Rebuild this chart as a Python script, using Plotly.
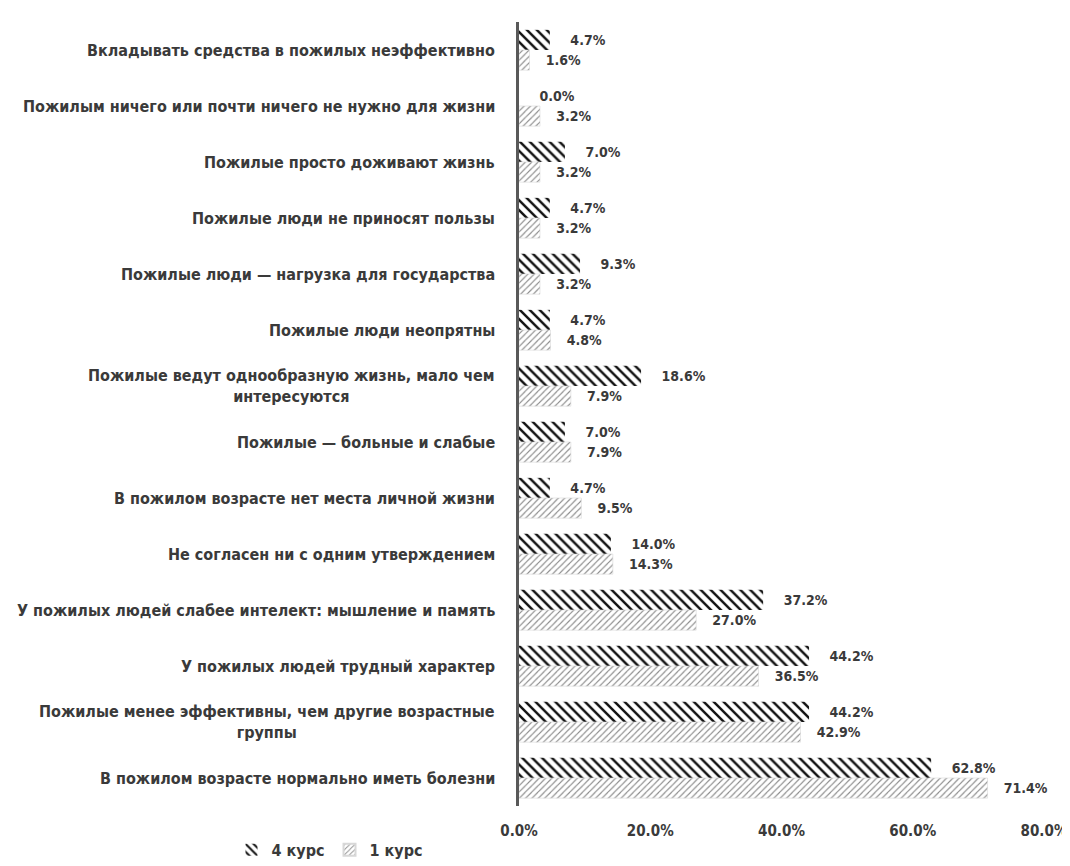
import plotly.graph_objects as go

categories = [
    "Вкладывать средства в пожилых неэффективно",
    "Пожилым ничего или почти ничего не нужно для жизни",
    "Пожилые просто доживают жизнь",
    "Пожилые люди не приносят пользы",
    "Пожилые люди — нагрузка для государства",
    "Пожилые люди неопрятны",
    "Пожилые ведут однообразную жизнь, мало чем<br>интересуются",
    "Пожилые — больные и слабые",
    "В пожилом возрасте нет места личной жизни",
    "Не согласен ни с одним утверждением",
    "У пожилых людей слабее интелект: мышление и память",
    "У пожилых людей трудный характер",
    "Пожилые менее эффективны, чем другие возрастные<br>группы",
    "В пожилом возрасте нормально иметь болезни",
]
course4 = [4.7, 0.0, 7.0, 4.7, 9.3, 4.7, 18.6, 7.0, 4.7, 14.0, 37.2, 44.2, 44.2, 62.8]
course1 = [1.6, 3.2, 3.2, 3.2, 3.2, 4.8, 7.9, 7.9, 9.5, 14.3, 27.0, 36.5, 42.9, 71.4]
x_ticks = [0, 20, 40, 60, 80]
x_tick_labels = ["0.0%", "20.0%", "40.0%", "60.0%", "80.0%"]

FONT = "DejaVu Sans Condensed, Liberation Sans Narrow, sans-serif"
TXT = "#3a3a3a"
NB = "\u00a0"

fig = go.Figure()
fig.add_trace(go.Bar(
    name="4 курс", y=categories, x=course4, orientation="h",
    marker=dict(color="white",
                pattern=dict(shape="\\", fgcolor="#111111", bgcolor="white",
                             size=7, solidity=0.35, fillmode="replace", fgopacity=1),
                line=dict(width=0)),
    texttemplate=NB * 4 + "%{x:.1f}%", textposition="outside",
    textfont=dict(family=FONT, size=14, color=TXT, weight="bold"),
    cliponaxis=False,
))
fig.add_trace(go.Bar(
    name="1 курс", y=categories, x=course1, orientation="h",
    marker=dict(color="white",
                pattern=dict(shape="/", fgcolor="#8a8a8a", bgcolor="white",
                             size=4.5, solidity=0.25, fillmode="replace", fgopacity=1),
                line=dict(width=0.6, color="#d8d8d8")),
    texttemplate=NB * 3 + "%{x:.1f}%", textposition="outside",
    textfont=dict(family=FONT, size=14, color=TXT, weight="bold"),
    cliponaxis=False,
))

for cat in categories:
    fig.add_annotation(x=0, xref="paper", y=cat, yref="y", text=cat,
                       xanchor="right", xshift=-22, align="center", showarrow=False,
                       font=dict(family=FONT, size=16, color=TXT, weight="bold"))

fig.update_layout(
    width=1070, height=866,
    barmode="group", bargap=0.28, bargroupgap=0.0,
    plot_bgcolor="white", paper_bgcolor="white",
    margin=dict(l=511, r=34, t=14, b=68, autoexpand=False),
    font=dict(family=FONT, size=15, color=TXT, weight="bold"),
    showlegend=True,
    legend=dict(orientation="h", x=-0.36, xanchor="center", y=-0.056, yanchor="middle",
                font=dict(family=FONT, size=16, color=TXT, weight="bold"),
                itemwidth=30, tracegroupgap=0, itemsizing="constant"),
)
fig.update_xaxes(range=[0, 80], tickvals=x_ticks, ticktext=x_tick_labels,
                 showgrid=False, zeroline=False, showline=False,
                 ticks="", ticklabelstandoff=14,
                 tickfont=dict(family=FONT, size=15, color=TXT, weight="bold"))
fig.update_yaxes(autorange="reversed", showgrid=False, ticks="",
                 showticklabels=False,
                 showline=True, linecolor="#595959", linewidth=3)

fig.write_html("out.html")
